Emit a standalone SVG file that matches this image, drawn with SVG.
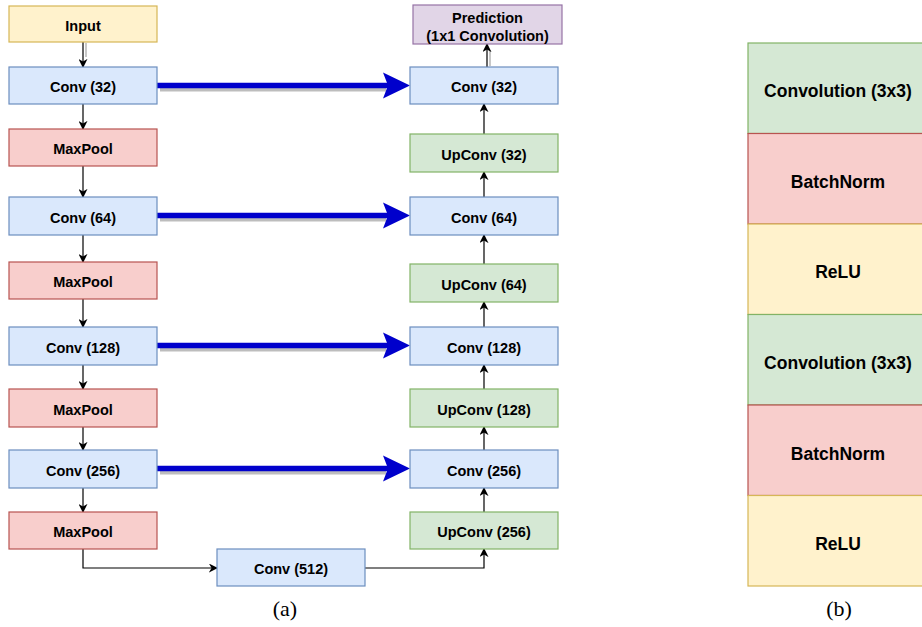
<svg xmlns="http://www.w3.org/2000/svg" width="922" height="627" viewBox="0 0 922 627">
<defs>
<style>
.t{font-family:"Liberation Sans",Arial,sans-serif;font-weight:bold;font-size:14.5px;text-anchor:middle;fill:#000}
.tb{font-family:"Liberation Sans",Arial,sans-serif;font-weight:bold;font-size:17.5px;text-anchor:middle;fill:#000}
.cap{font-family:"Liberation Serif","DejaVu Serif",serif;font-size:22px;text-anchor:middle;fill:#000}
.blue{fill:#dae8fc;stroke:#6c8ebf;stroke-width:1.2}
.red{fill:#f8cecc;stroke:#b85450;stroke-width:1.2}
.yel{fill:#fff2cc;stroke:#d6b656;stroke-width:1.2}
.grn{fill:#d5e8d4;stroke:#82b366;stroke-width:1.2}
.pur{fill:#e1d5e7;stroke:#9673a6;stroke-width:1.2}
.ln{fill:none;stroke:#000;stroke-width:1.2;marker-end:url(#ah)}
.sk{fill:none;stroke:#0000cc;stroke-width:5.5}
.sh{fill:none;stroke:#bdbdbd;stroke-width:4}
.shg{fill:none;stroke:#c8c8c8;stroke-width:2}
</style>
<marker id="ah" viewBox="0 0 10 10" refX="9" refY="5" markerWidth="9" markerHeight="9" markerUnits="userSpaceOnUse" orient="auto">
<path d="M0,0 L10,5 L0,10 L3,5 Z" fill="#000"/>
</marker>
<polygon id="bh" points="-27,-13 0,0 -27,13 -22,0" fill="#0000cc"/>
</defs>

<g id="connectors">
<line class="shg" x1="86" y1="43" x2="86" y2="57"/>
<line class="shg" x1="490" y1="50" x2="490" y2="66"/>
<line class="ln" x1="83" y1="42" x2="83" y2="67"/>
<line class="ln" x1="83" y1="104" x2="83" y2="129"/>
<line class="ln" x1="83" y1="166" x2="83" y2="197"/>
<line class="ln" x1="83" y1="235" x2="83" y2="262"/>
<line class="ln" x1="83" y1="299" x2="83" y2="327"/>
<line class="ln" x1="83" y1="365" x2="83" y2="389"/>
<line class="ln" x1="83" y1="427" x2="83" y2="450"/>
<line class="ln" x1="83" y1="488" x2="83" y2="512"/>
<polyline class="ln" points="83,549 83,568 217,568"/>
<polyline class="ln" points="365,568 484,568 484,549"/>
<line class="ln" x1="484" y1="512" x2="484" y2="488"/>
<line class="ln" x1="484" y1="450" x2="484" y2="427"/>
<line class="ln" x1="484" y1="389" x2="484" y2="365"/>
<line class="ln" x1="484" y1="327" x2="484" y2="302"/>
<line class="ln" x1="484" y1="264" x2="484" y2="235"/>
<line class="ln" x1="484" y1="197" x2="484" y2="172"/>
<line class="ln" x1="484" y1="134" x2="484" y2="104"/>
<line class="ln" x1="487" y1="67" x2="487" y2="44"/>
<line class="sh" x1="160" y1="89.5" x2="386" y2="89.5"/>
<line class="sk" x1="157" y1="85.5" x2="390" y2="85.5"/>
<use href="#bh" x="410" y="85.5"/>
<line class="sh" x1="160" y1="219.5" x2="386" y2="219.5"/>
<line class="sk" x1="157" y1="215.5" x2="390" y2="215.5"/>
<use href="#bh" x="410" y="215.5"/>
<line class="sh" x1="160" y1="349.5" x2="386" y2="349.5"/>
<line class="sk" x1="157" y1="345.5" x2="390" y2="345.5"/>
<use href="#bh" x="410" y="345.5"/>
<line class="sh" x1="160" y1="472.5" x2="386" y2="472.5"/>
<line class="sk" x1="157" y1="468.5" x2="390" y2="468.5"/>
<use href="#bh" x="410" y="468.5"/>
</g>

<g id="input"><rect class="yel" x="9" y="6" width="148" height="36"/><text class="t" x="83" y="30.5">Input</text></g>
<g id="conv32"><rect class="blue" x="9" y="67" width="148" height="37"/><text class="t" x="83" y="92">Conv (32)</text></g>
<g id="pool1"><rect class="red" x="9" y="129" width="148" height="37"/><text class="t" x="83" y="154">MaxPool</text></g>
<g id="conv64"><rect class="blue" x="9" y="197" width="148" height="38"/><text class="t" x="83" y="222.5">Conv (64)</text></g>
<g id="pool2"><rect class="red" x="9" y="262" width="148" height="37"/><text class="t" x="83" y="287">MaxPool</text></g>
<g id="conv128"><rect class="blue" x="9" y="327" width="148" height="38"/><text class="t" x="83" y="352.5">Conv (128)</text></g>
<g id="pool3"><rect class="red" x="9" y="389" width="148" height="38"/><text class="t" x="83" y="414.5">MaxPool</text></g>
<g id="conv256"><rect class="blue" x="9" y="450" width="148" height="38"/><text class="t" x="83" y="475.5">Conv (256)</text></g>
<g id="pool4"><rect class="red" x="9" y="512" width="148" height="37"/><text class="t" x="83" y="537">MaxPool</text></g>
<g id="conv512"><rect class="blue" x="217" y="549" width="148" height="37"/><text class="t" x="291" y="574">Conv (512)</text></g>

<g id="upconv256"><rect class="grn" x="410" y="512" width="148" height="37"/><text class="t" x="484" y="537">UpConv (256)</text></g>
<g id="dconv256"><rect class="blue" x="410" y="450" width="148" height="38"/><text class="t" x="484" y="475.5">Conv (256)</text></g>
<g id="upconv128"><rect class="grn" x="410" y="389" width="148" height="38"/><text class="t" x="484" y="414.5">UpConv (128)</text></g>
<g id="dconv128"><rect class="blue" x="410" y="327" width="148" height="38"/><text class="t" x="484" y="352.5">Conv (128)</text></g>
<g id="upconv64"><rect class="grn" x="410" y="264" width="148" height="38"/><text class="t" x="484" y="289.5">UpConv (64)</text></g>
<g id="dconv64"><rect class="blue" x="410" y="197" width="148" height="38"/><text class="t" x="484" y="222.5">Conv (64)</text></g>
<g id="upconv32"><rect class="grn" x="410" y="134" width="148" height="38"/><text class="t" x="484" y="159.5">UpConv (32)</text></g>
<g id="dconv32"><rect class="blue" x="410" y="67" width="148" height="37"/><text class="t" x="484" y="92">Conv (32)</text></g>
<g id="prediction"><rect class="pur" x="413" y="5" width="149" height="39"/><text class="t" x="487.5" y="23">Prediction</text><text class="t" x="487.5" y="40.5">(1x1 Convolution)</text></g>

<g id="block">
<rect class="grn" x="748" y="43" width="182" height="90.5"/><text class="tb" x="838" y="97">Convolution (3x3)</text>
<rect class="red" x="748" y="133.5" width="182" height="90.5"/><text class="tb" x="838" y="188">BatchNorm</text>
<rect class="yel" x="748" y="224" width="182" height="90.5"/><text class="tb" x="838" y="278">ReLU</text>
<rect class="grn" x="748" y="314.5" width="182" height="90.5"/><text class="tb" x="838" y="369">Convolution (3x3)</text>
<rect class="red" x="748" y="405" width="182" height="90.5"/><text class="tb" x="838" y="460">BatchNorm</text>
<rect class="yel" x="748" y="495.5" width="182" height="90.5"/><text class="tb" x="838" y="550">ReLU</text>
</g>

<text class="cap" x="285" y="616">(a)</text>
<text class="cap" x="839" y="616">(b)</text>
</svg>
